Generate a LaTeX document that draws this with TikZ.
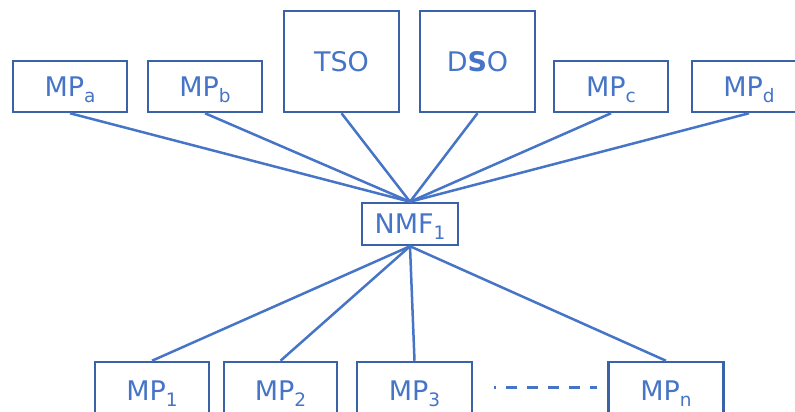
\documentclass[tikz,border=0pt]{standalone}
\usepackage{fontspec}
\setmainfont{DejaVu Sans}
\definecolor{boxline}{HTML}{3A62A8}
\definecolor{linkblue}{HTML}{4674C6}
\newcommand\lowsub[1]{\raisebox{-6pt}{\fontsize{18.5}{18.5}\selectfont #1}}
\tikzset{
  unitbox/.style={draw=boxline, line width=2.5pt, text=linkblue, inner sep=0pt,
    font=\fontsize{27}{27}\selectfont, text height=19.7pt, text depth=0pt,
    minimum width=114pt, minimum height=51pt},
  link/.style={draw=linkblue, line width=2.5pt}
}
\begin{document}
\begin{tikzpicture}[x=1pt,y=-1pt]
\useasboundingbox (0,0) rectangle (795,412);
% upper row
\node[unitbox] (mpa) at (70,86.5) {MP\lowsub{a}};
\node[unitbox] (mpb) at (205,86.5) {MP\lowsub{b}};
\node[unitbox, minimum width=115pt, minimum height=101pt] (tso) at (341.5,61.5) {TSO};
\node[unitbox, minimum width=115pt, minimum height=101pt] (dso) at (477.5,61.5) {D\textbf{S}O};
\node[unitbox] (mpc) at (611,86.5) {MP\lowsub{c}};
\node[unitbox] (mpd) at (749,86.5) {MP\lowsub{d}};
% central node
\node[unitbox, minimum width=96pt, minimum height=42pt] (nmf) at (410,224) {NMF\lowsub{1}};
% lower row
\node[unitbox, minimum height=58pt] (mp1) at (152,391) {MP\lowsub{1}};
\node[unitbox, minimum height=58pt, minimum width=113pt] (mp2) at (280.5,391) {MP\lowsub{2}};
\node[unitbox, minimum height=58pt, minimum width=115pt] (mp3) at (414.5,391) {MP\lowsub{3}};
\node[unitbox, minimum height=58pt, minimum width=115pt] (mpn) at (666,391) {MP\lowsub{n}};
% connectors
\foreach \n in {mpa,mpb,tso,dso,mpc,mpd}
  \draw[link] (\n.south) -- (nmf.north);
\foreach \n in {mp1,mp2,mp3,mpn}
  \draw[link] (nmf.south) -- (\n.north);
% ellipsis between MP3 and MPn
\coordinate (dl) at (494,387.7);
\coordinate (dr) at (597,387.7);
\draw[draw=linkblue, line width=3pt, dash pattern=on 11pt off 10pt, dash phase=9pt] (dl) -- (dr);
\end{tikzpicture}
\end{document}
